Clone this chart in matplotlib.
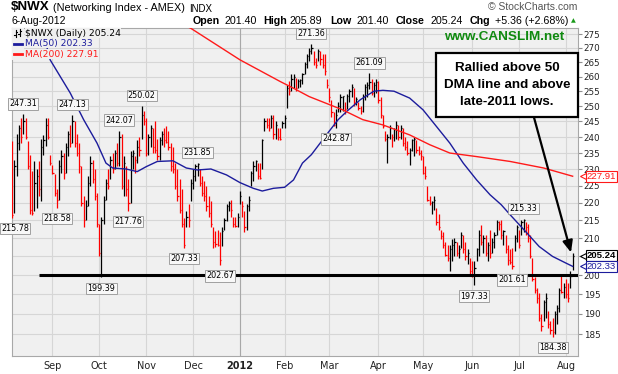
import matplotlib
matplotlib.use('Agg')
import matplotlib.pyplot as plt
import matplotlib.transforms as mtransforms
from matplotlib.patches import Rectangle
from matplotlib.lines import Line2D
import numpy as np
import pandas as pd

# trading days Aug 8 2011 .. Aug 6 2012
holidays = ['2011-09-05', '2011-11-24', '2011-12-26', '2012-01-02', '2012-01-16',
            '2012-02-20', '2012-04-06', '2012-05-28', '2012-07-04']
days = pd.bdate_range('2011-08-08', '2012-08-06', freq='C', holidays=holidays)

prev_close_start = 224.0  # close before first bar

high = [
    # Aug 2011
    238.7, 233, 241, 244, 246, 247.31, 246, 238.7, 234.5, 229.6, 232.6, 230, 232.6, 239.5, 240.7, 246, 246, 234.5,
    # Sep
    231.4, 228.5, 224, 233, 236, 235, 238, 242, 244, 247.13, 245, 241, 238, 231, 222, 221, 228, 234, 233, 230, 223,
    # Oct
    214, 216, 222, 227, 230, 234, 235, 236, 238, 242.07, 241, 234, 231, 227, 235.5, 236, 234, 239, 240, 250.02, 248.5,
    # Nov
    246, 241, 244, 243, 245, 239.5, 240, 242, 243, 243.6, 242, 238, 237, 232, 230, 227, 224, 215.8, 217.7, 219.6, 227,
    # Dec
    230, 231.5, 231.85, 230, 228, 226.5, 225, 222, 220.6, 213, 212, 212.4, 211.6, 213, 215.8, 219.6, 220.6, 221, 216, 216, 217,
    # Jan 2012
    223.6, 220.6, 217.7, 219.6, 222, 229.6, 232.6, 233, 232, 232, 239.5, 246, 246, 246, 247, 247, 245, 243, 243, 245,
    # Feb
    247, 257, 258.5, 261, 261, 259.6, 259, 259, 261.3, 265, 267.7, 270, 271.36, 269, 266.5, 269.5, 269, 267.8, 267.8, 259,
    # Mar
    256, 252, 248, 249, 251.5, 254, 253.5, 251.5, 254, 255.6, 257.3, 256, 253, 251.5, 250, 254, 257.3, 258, 261.09, 259, 258, 259,
    # Apr
    258.5, 253, 247, 242, 241, 244, 241, 243, 245, 244, 244, 243, 240, 238.7, 236.6, 239.5, 240, 239, 237.2, 236,
    # May
    234, 231, 225, 222.1, 220.6, 222, 218.5, 216.8, 212.4, 211.6, 208.9, 208, 208, 209.9, 210, 209, 208, 211.6, 211, 209, 207, 204.6,
    # Jun
    203.7, 203.7, 207.3, 212.4, 213.6, 211, 210.8, 209, 212.4, 210, 211.6, 215.0, 214.8, 215.2, 212.4, 211, 208, 207, 207.3, 210.8, 213.6,
    # Jul
    212.4, 215, 215.33, 214.5, 214, 210.8, 204.6, 199.4, 196.6, 195.2, 190, 193.5, 195.2, 190.8, 188.2, 189, 190.8, 192.3, 196.6, 200.3, 198,
    # Aug
    199, 198, 201.2, 205.89,
]

low = [
    215.78, 217, 228, 236, 238, 241, 239.5, 230, 216.8, 216.5, 217.7, 218.5, 222, 220.6, 234.5, 237.2, 239.5, 231.4,
    228.5, 222.1, 218.58, 221, 229, 227, 229, 234, 237, 238, 237, 234, 229, 219, 213, 215, 219, 225, 226, 221, 213,
    205, 199.39, 214, 221, 224, 227, 229, 230, 231, 231, 224, 222, 222, 217.76, 220, 230, 229, 232, 234, 239.5, 244,
    234, 234.5, 237, 235, 235, 233, 233, 237.5, 237, 238, 236, 229.6, 229, 224, 220.6, 217, 213, 207.33, 213, 213, 220.6,
    224, 226.5, 228, 225, 222, 220.6, 217.7, 216, 213, 207.3, 207.5, 207.8, 202.67, 207.8, 212.4, 214.9, 217.7, 216, 213, 213, 213,
    219.6, 216, 211.6, 212.4, 217.7, 225, 226.5, 229.6, 227, 227, 230, 242, 243, 242, 243, 239.5, 239.5, 239, 239, 243,
    243, 249.4, 253.6, 255, 256, 255, 256, 256.5, 257.5, 261, 263, 265.4, 267.8, 264, 263, 265.3, 264, 263, 260.5, 256,
    251.5, 246.6, 243.5, 242.87, 248, 248, 248.5, 247.5, 249, 251.5, 253, 250, 250.5, 248.7, 247.5, 248, 252, 253, 255.6, 253.7, 253, 254.5,
    251, 246, 243, 238.8, 232, 239.5, 237, 238.7, 239.5, 239, 239.5, 237.2, 236, 234.5, 231.2, 235.5, 234, 235, 234.5, 233,
    228.5, 227, 220.6, 219.3, 216.8, 218, 213.6, 212.4, 209.9, 207.3, 205, 203.7, 201.2, 203.7, 205, 205, 204.6, 207.3, 206, 204, 203, 200.3,
    199.4, 197.33, 203.7, 205, 208, 206, 205, 203.7, 204.6, 206, 207.3, 210.8, 212.4, 209.9, 208, 206, 202.7, 203, 201.61, 206.5, 208.9,
    207.3, 210.8, 211.6, 211, 209, 204.6, 198.4, 195.2, 192.7, 188.2, 185.7, 188.2, 189, 186.6, 185.1, 184.38, 185.1, 187.4, 190.6, 195.2, 194,
    194, 193, 196.5, 201.40,
]

close = [
    216.5, 231, 238, 243, 240, 245, 240, 231, 218, 217, 226, 228, 224, 237, 239, 244, 240, 232,
    229, 223, 221, 231, 234, 229, 237, 241, 238, 245, 238, 235, 231, 220, 215, 219, 226, 232, 227, 222, 214,
    206, 215, 221, 226, 225, 233, 230, 235, 232, 240, 225, 232, 224, 220, 234, 235, 233, 237, 236, 247, 245,
    235, 240, 243, 237, 236, 234, 239, 241, 239, 238.5, 237, 231, 230, 225, 222, 218, 214, 208, 216, 215, 226,
    228, 231, 231.5, 226, 223, 222, 219, 217, 214, 209, 208.5, 208, 204, 212, 215, 219, 220, 218, 214, 213.5, 216,
    222, 219, 213, 219, 221, 229, 231, 232.5, 228, 227.5, 239, 245, 244, 243, 246, 241, 244, 240, 239.5, 244.5,
    246, 256, 255, 259, 260, 256, 258.5, 258.8, 261, 264.5, 267, 269, 270, 265, 264, 269, 266, 264, 262, 257,
    253, 248, 244, 247, 250, 253, 253.3, 249, 253.5, 255, 256.5, 251.5, 252.5, 249.5, 248.5, 253.5, 256.5, 257, 258, 254.5, 257, 258,
    252, 247, 243.5, 239.5, 240, 243, 240, 242.5, 244, 240, 243, 238, 237, 235, 236, 239, 239.5, 236, 235, 234,
    229, 228, 221, 220, 220.3, 221, 214.5, 213, 210.5, 208, 205.5, 204.5, 207, 208, 209, 206, 207, 211, 207, 205, 206, 201,
    200, 202, 207, 211, 209, 210, 206, 208, 206, 209, 211, 214.5, 214, 211, 212, 207, 204, 203.5, 202.5, 210, 213,
    208, 214.5, 215.2, 213, 210, 205, 199, 196, 194, 189, 187, 193, 194, 187.5, 186, 185.5, 190, 191.5, 196, 195.5, 197,
    195, 194, 199.88, 205.24,
]

# moving averages
ma50_dates = ['2011-08-29', '2011-08-31', '2011-09-14', '2011-09-22', '2011-09-30', '2011-10-06',
              '2011-10-11', '2011-10-19', '2011-10-26', '2011-11-01', '2011-11-08', '2011-11-17',
              '2011-11-28', '2011-12-05', '2011-12-13', '2011-12-22', '2012-01-03', '2012-01-11',
              '2012-01-18', '2012-01-25', '2012-02-01', '2012-02-07', '2012-02-13', '2012-02-17',
              '2012-03-01', '2012-03-07', '2012-03-13', '2012-03-21', '2012-03-29', '2012-04-04',
              '2012-04-12', '2012-04-23', '2012-05-01', '2012-05-09', '2012-05-17', '2012-05-25',
              '2012-06-05', '2012-06-13', '2012-06-20', '2012-06-26', '2012-07-06', '2012-07-16',
              '2012-07-24', '2012-08-01', '2012-08-06']
ma50 = [272, 265.8, 254.4, 245.6, 238.1, 231.9, 230.4, 230.1, 229.3, 230.8, 232.4, 232.6,
        230.4, 229.8, 230.1, 228.3, 226.0, 224.3, 223.5, 224.3, 224.6, 226.8, 231.9, 234.5,
        241.9, 245.6, 248.4, 252.2, 255.0, 255.3, 255.0, 252.7, 248.8, 243.4, 238.1, 231.9,
        226.8, 222.4, 219.5, 216.6, 211.8, 207.7, 205.0, 203.2, 202.33]

ma200_dates = ['2011-11-15', '2011-11-30', '2012-01-03', '2012-01-30', '2012-02-07', '2012-02-16',
               '2012-03-09', '2012-03-22', '2012-04-04', '2012-04-23', '2012-05-04', '2012-05-17',
               '2012-06-05', '2012-06-26', '2012-07-18', '2012-08-06']
ma200 = [281, 277.1, 265.8, 258.3, 256.0, 253.2, 248.8, 245.6, 243.9, 240.7, 237.6, 235.0,
         233.9, 232.4, 230.4, 227.91]

high_labels = ['2011-08-15', '2011-09-15', '2011-10-14', '2011-10-28', '2011-12-05',
               '2012-02-17', '2012-03-27', '2012-07-05']
low_labels = ['2011-08-08', '2011-09-06', '2011-10-04', '2011-10-20', '2011-11-25',
              '2011-12-19', '2012-03-06', '2012-06-04', '2012-06-27', '2012-07-24']

support_level = 200
support_start = '2011-08-24'
yticks = list(range(185, 280, 5))

W, H = 618, 374
plt.rcParams['font.family'] = ['DejaVu Sans']
fig = plt.figure(figsize=(W / 100, H / 100), dpi=100)
ax = fig.add_axes([11.5 / W, 1 - 355.7 / H, (578 - 11.5) / W, (355.7 - 28.3) / H])
ax.set_facecolor('#f0f0f0')

n = len(days)
x = np.arange(n)
hi = np.array(high)
lo = np.array(low)
cl = np.array(close)
prev = np.concatenate([[prev_close_start], cl[:-1]])
colors = np.where(cl >= prev, 'black', '#ff0000')
ax.vlines(x, lo, hi, colors=colors, lw=0.9, zorder=3)
ax.hlines(cl, x, x + 0.55, colors=colors, lw=0.9, zorder=3)

p50 = days.get_indexer(pd.to_datetime(ma50_dates))
p200 = days.get_indexer(pd.to_datetime(ma200_dates))
ax.plot(p50, ma50, color='#1c1c9c', lw=1.0, zorder=4)
ax.plot(p200, ma200, color='#ff1a1a', lw=1.0, zorder=4)

xmax = 253.4
ax.hlines(support_level, days.get_loc(pd.Timestamp(support_start)), xmax, color='black', lw=2.2, zorder=5)

ax.set_yscale('log')
ax.set_ylim(179.8, 277.1)
ax.set_xlim(-0.3, xmax)
ax.yaxis.tick_right()
ax.set_yticks(yticks)
# the 205 label sits under the last-price tag
ax.set_yticklabels(['' if v == 205 else str(v) for v in yticks])
ax.yaxis.set_minor_locator(matplotlib.ticker.NullLocator())
ax.tick_params(axis='y', length=3, width=0.8, color='#909090', pad=1, labelsize=6.3, labelcolor='#222222')

month_pos = [i for i in range(1, n) if days[i].month != days[i - 1].month]
month_lab = ['2012' if days[i].month == 1 else days[i].strftime('%b') for i in month_pos]
ax.set_xticks(month_pos)
ax.set_xticklabels(month_lab)
ax.tick_params(axis='x', length=0, pad=4, labelsize=7, labelcolor='#222222')
for t in ax.get_xticklabels():
    if t.get_text() == '2012':
        t.set_fontweight('bold')

ax.grid(True, axis='both', color='#d6d6d6', lw=0.8, zorder=0)
ax.set_axisbelow(True)
for i, lab in zip(month_pos, month_lab):
    if lab == '2012':
        ax.axvline(i, color='#a8a8a8', lw=0.8, zorder=1)
for s in ax.spines.values():
    s.set_color('#a8a8a8')
    s.set_linewidth(0.8)

box = dict(boxstyle='square,pad=0.15', fc='#f8f8f8', ec='#a0a0a0', lw=0.7)
for d in high_labels:
    i = days.get_loc(pd.Timestamp(d))
    ax.annotate(f'{high[i]:.2f}', (i, high[i]), xytext=(0, 7.6), textcoords='offset points',
                ha='center', va='center', fontsize=5.8, bbox=box, zorder=6, annotation_clip=False)
for d in low_labels:
    i = days.get_loc(pd.Timestamp(d))
    dx = 2 if i == 0 else 0
    ax.annotate(f'{low[i]:.2f}', (i, low[i]), xytext=(dx, -7.8), textcoords='offset points',
                ha='center', va='center', fontsize=5.8, bbox=box, zorder=6, annotation_clip=False)

lib = 'Liberation Sans'

# right-side value tags
trans = mtransforms.blended_transform_factory(ax.transAxes, ax.transData)


def tag(val, color, bold=False):
    ax.text(1.0155, val, f'{val:.2f}', transform=trans, ha='left', va='center', fontsize=6.8,
            family=lib, color=color, fontweight='bold' if bold else 'normal', clip_on=False,
            bbox=dict(boxstyle='square,pad=0.1', fc='white', ec=color, lw=0.8), zorder=7)
    ax.plot([1.008], [val], marker='<', ms=4.5, mfc='white', mec=color, mew=0.8,
            transform=trans, clip_on=False, zorder=8)


tag(ma200[-1], '#ff1a1a')
tag(close[-1], 'black', bold=True)
tag(ma50[-1], '#1c1c9c')


def ftext(px, py, s, **kw):
    kw.setdefault('va', 'center')
    return fig.text(px / W, 1 - py / H, s, **kw)


ftext(11, 7.5, '$NWX', fontsize=9.6, fontweight='bold', family=lib)
ftext(53, 8, '(Networking Index - AMEX)', fontsize=7.8, family=lib)
ftext(189, 8.5, 'INDX', fontsize=7, family=lib)
ftext(11.5, 20.5, '6-Aug-2012', fontsize=7.5, family=lib)
ftext(488, 7.5, '\u00a9 StockCharts.com', fontsize=7.5, family=lib, color='#555555')

row = [(192.7, 'Open', True), (224, '201.40', False), (263, 'High', True), (290, '205.89', False),
       (330, 'Low', True), (356.7, '201.40', False), (396, 'Close', True), (430.7, '205.24', False),
       (470, 'Chg', True), (495, '+5.36 (+2.68%)', False)]
for px, s, b in row:
    ftext(px, 20.5, s, fontsize=7.7, family=lib, fontweight='bold' if b else 'normal')
ftext(571, 20.5, '\u25b2', fontsize=4.5, color='#1a9a1a')

# legend
leg_bg = dict(boxstyle='square,pad=0.05', fc='#f0f0f0', ec='none')
ftext(25, 33.3, '$NWX (Daily) 205.24', fontsize=6.6, bbox=leg_bg, zorder=8)
ftext(25, 43.5, 'MA(50) 202.33', fontsize=6.6, color='#1c1c9c', bbox=leg_bg, zorder=8)
ftext(25, 54, 'MA(200) 227.91', fontsize=6.6, color='#ff1a1a', bbox=leg_bg, zorder=8)
fig.add_artist(Rectangle((12 / W, 1 - 60 / H), 12 / W, 32 / H, transform=fig.transFigure,
                         fc='#f0f0f0', ec='none', zorder=8))
for bx, y0, y1 in [(15.5, 30, 37), (19.5, 29, 36)]:
    fig.add_artist(Line2D([bx / W, bx / W], [1 - y1 / H, 1 - y0 / H], transform=fig.transFigure,
                          color='black', lw=0.8, zorder=9))
    fig.add_artist(Line2D([bx / W, (bx + 1.5) / W], [1 - (y0 + 2) / H] * 2, transform=fig.transFigure,
                          color='black', lw=0.8, zorder=9))
    fig.add_artist(Line2D([(bx - 1.5) / W, bx / W], [1 - (y1 - 2) / H] * 2, transform=fig.transFigure,
                          color='black', lw=0.8, zorder=9))
fig.add_artist(Line2D([13.5 / W, 22 / W], [1 - 43.5 / H] * 2, transform=fig.transFigure,
                      color='#1c1c9c', lw=2, zorder=9))
fig.add_artist(Line2D([13.5 / W, 22 / W], [1 - 54 / H] * 2, transform=fig.transFigure,
                      color='#ff1a1a', lw=2, zorder=9))

ftext(503.7, 36.5, 'www.CANSLIM.net', fontsize=9.7, fontweight='bold', family=lib,
      color='#108a10', ha='center', zorder=8)

# annotation box and arrow
fig.add_artist(Rectangle((436 / W, 1 - 116.7 / H), (577.7 - 436) / W, (116.7 - 53.3) / H,
                         transform=fig.transFigure, fc='white', ec='black', lw=1.6, zorder=10))
for py, s in [(68.3, 'Rallied above 50'), (85, 'DMA line and above'), (101.7, 'late-2011 lows.')]:
    ftext(507, py, s, fontsize=9.6, fontweight='bold', family=lib, ha='center', zorder=11)
ax.annotate('', xy=(571, H - 252.5), xytext=(534, H - 117.5), xycoords='figure pixels',
            textcoords='figure pixels', annotation_clip=False,
            arrowprops=dict(arrowstyle='-|>,head_length=0.7,head_width=0.3', color='black', lw=1.6,
                            shrinkA=0, shrinkB=0), zorder=9)

fig.savefig('out.png', dpi=100)
